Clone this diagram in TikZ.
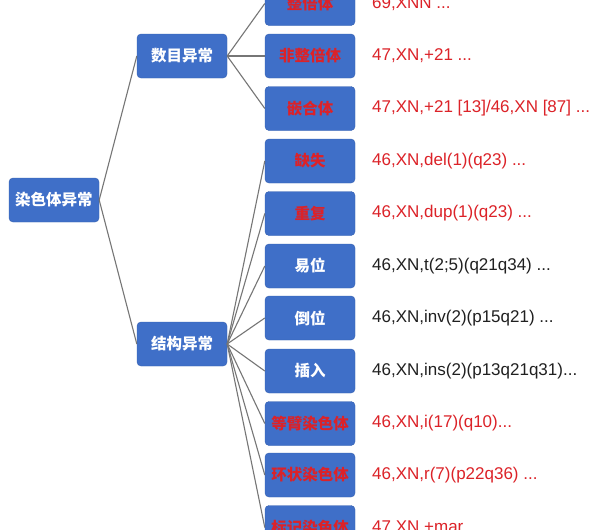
\documentclass[tikz,border=0pt]{standalone}
\usepackage{fontspec}
\setmainfont{Liberation Sans}
\newfontfamily\cjk{Noto Sans CJK SC}
\definecolor{boxfill}{HTML}{3F6FC8}
\definecolor{boxedge}{HTML}{3560B0}
\definecolor{rtext}{HTML}{DC2228}
\definecolor{linegray}{HTML}{767676}
\definecolor{ktext}{HTML}{202020}
\begin{document}
\begin{tikzpicture}[x=1pt,y=-1pt,
 box/.style={draw=boxedge, fill=boxfill, rounded corners=4pt, minimum width=90pt, minimum height=44pt, inner sep=0pt, font=\cjk\bfseries\fontsize{15.5}{18}\selectfont, text=white},
 redbox/.style={box, text=rtext},
 note/.style={anchor=west, font=\fontsize{17}{20}\selectfont, text=ktext, inner sep=0pt},
 rnote/.style={note, text=rtext},
 link/.style={draw=linegray, line width=1.1pt}]
\useasboundingbox (0,0) rectangle (600,530);
\fill[white] (0,0) rectangle (600,530);
\clip (0,0) rectangle (600,530);
\node[box] (root) at (54,200) {染色体异常};
\node[box] (num) at (182,56) {数目异常};
\node[box] (str) at (182,344) {结构异常};
\node[redbox] (l1) at (310,3.5) {整倍体};
\node[redbox] (l2) at (310,56) {非整倍体};
\node[redbox] (l3) at (310,108.5) {嵌合体};
\node[redbox] (l4) at (310,161) {缺失};
\node[redbox] (l5) at (310,213.5) {重复};
\node[box] (l6) at (310,266) {易位};
\node[box] (l7) at (310,318) {倒位};
\node[box] (l8) at (310,371) {插入};
\node[redbox] (l9) at (310,423.5) {等臂染色体};
\node[redbox] (l10) at (310,475) {环状染色体};
\node[redbox] (l11) at (310,527.5) {标记染色体};
\node[rnote] (t1) at (372,3.5) {69,XNN ...};
\node[rnote] (t2) at (372,56) {47,XN,+21 ...};
\node[rnote] (t3) at (372,108.5) {47,XN,+21 [13]/46,XN [87] ...};
\node[rnote] (t4) at (372,161) {46,XN,del(1)(q23) ...};
\node[rnote] (t5) at (372,213.5) {46,XN,dup(1)(q23) ...};
\node[note] (t6) at (372,266) {46,XN,t(2;5)(q21q34) ...};
\node[note] (t7) at (372,318) {46,XN,inv(2)(p15q21) ...};
\node[note] (t8) at (372,371) {46,XN,ins(2)(p13q21q31)...};
\node[rnote] (t9) at (372,423.5) {46,XN,i(17)(q10)...};
\node[rnote] (t10) at (372,475) {46,XN,r(7)(p22q36) ...};
\node[rnote] (t11) at (372,527.5) {47,XN,+mar ...};
\draw[link] (root.east) -- (num.west);
\draw[link] (root.east) -- (str.west);
\foreach \l in {l1,l2,l3} \draw[link] (num.east) -- (\l.west);
\foreach \l in {l4,l5,l6,l7,l8,l9,l10,l11} \draw[link] (str.east) -- (\l.west);
\end{tikzpicture}
\end{document}
